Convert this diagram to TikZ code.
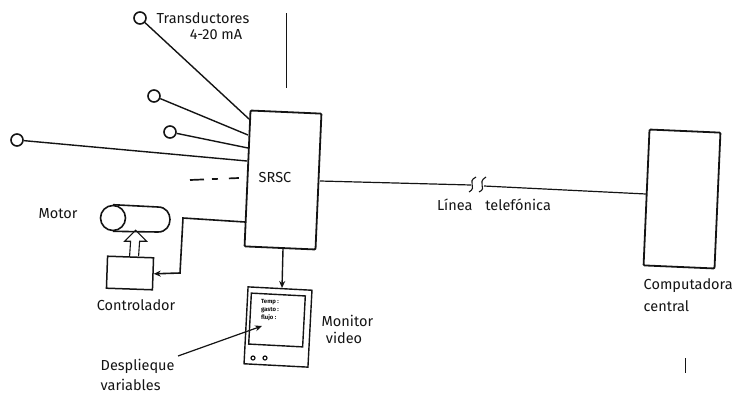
\documentclass[tikz,border=0pt]{standalone}
\usepackage{fontspec}
\setmainfont{Fira Sans}
\usetikzlibrary{arrows.meta,positioning,calc}
\definecolor{inkdark}{RGB}{20,20,20}
\begin{document}
\begin{tikzpicture}[x=1pt,y=-1pt,>={Stealth[length=7pt,width=6pt]},line width=1.4pt,draw=inkdark,
    every node/.style={align=center,font=\fontsize{14.5}{22}\selectfont,text=inkdark,inner sep=0pt},
    unitbox/.style={draw,line width=1.8pt,rounded corners=1pt,rotate=-2.5,minimum width=71pt,minimum height=136pt},
    sensor/.style={draw,circle,line width=1.6pt,minimum size=12pt},
    knob/.style={draw,circle,line width=1.2pt,minimum size=4pt},
    scanmark/.style={line width=0.8pt}]
  \useasboundingbox (0,0) rectangle (735,394);
  \node[unitbox] (srsc) at (283,180) {};
  \node (srsc label) at (275,177) {SRSC};
  \node[unitbox] (central) at (682,199) {};
  \node[sensor] (t1) at (140,18) {};
  \node[sensor] (t2) at (154,96) {};
  \node[sensor] (t3) at (170,132) {};
  \node[sensor] (t4) at (17,140) {};
  \coordinate (in1) at (249,119);
  \coordinate (in2) at (248,135);
  \coordinate (in3) at (248,148);
  \coordinate (in4) at (247,161);
  \draw (t1) -- (in1);
  \draw (t2) -- (in2);
  \draw (t3) -- (in3);
  \draw (t4) -- (in4);
  \node (transd) at (203,18) {Transductores};
  \node (transd range) at (216,35) {4-20 mA};
  \coordinate (dashA) at (190,180);
  \coordinate (dashB) at (239,178);
  \draw[line width=1.7pt,dash pattern=on 14pt off 8pt on 6pt off 11pt on 10pt off 9pt] (dashA) -- (dashB);
  \coordinate (breakA) at (471,185);
  \coordinate (breakB) at (484,186);
  \coordinate (lineout) at (320,181);
  \coordinate (linein) at (646,194);
  \draw[line width=1.2pt] (lineout) -- (breakA);
  \draw[line width=1.2pt] (breakB) -- (linein);
  \draw[line width=1.1pt] ($(breakA)+(-2,7)$) .. controls ($(breakA)+(7,2)$) and ($(breakA)+(-5,-3)$) .. ($(breakA)+(5,-8)$);
  \draw[line width=1.1pt] ($(breakB)+(-5,6)$) .. controls ($(breakB)+(4,2)$) and ($(breakB)+(-8,-3)$) .. ($(breakB)+(2,-9)$);
  \node (linea) at (494,205) {Línea\hspace{0.9em}telefónica};
  \node[anchor=north west,align=left] (central label) at (643,278) {Computadora\\central};
  \node (motor label) at (58,214) {Motor};
  \node[draw,circle,line width=1.6pt,minimum width=25pt] (motor end) at (113,218) {};
  \coordinate (motor top) at (158,207);
  \coordinate (motor low) at (158,232);
  \draw[line width=1.6pt] (motor end.north) -- (motor top) .. controls (174,207) and (174,232) .. (motor low) -- (motor end.south);
  \node[draw,line width=1.5pt,rotate=-2,minimum width=46pt,minimum height=32pt] (control) at (130,273) {};
  \node (control label) at (136,305) {Controlador};
  \draw[line width=1.1pt] ($(control.north)+(-1,0)$) -- ++(1,-15) -- ++(-6,0) -- ++(11,-11) -- ++(11,11) -- ++(-7,0) -- ++(-1,15);
  \coordinate (wireout) at (245,222);
  \coordinate (bendA) at (183,218);
  \coordinate (bendB) at (180,273);
  \draw[->,line width=1.6pt] (wireout) -- (bendA) -- (bendB) -- (control.east);
  \node[draw,line width=1.4pt,rotate=-3,minimum width=64pt,minimum height=77pt] (monitor) at (278,327) {};
  \node[draw,line width=1.4pt,rotate=-3,minimum width=54pt,minimum height=51pt] (screen) at (277,320) {};
  \node[font=\fontsize{6}{8}\selectfont\bfseries,align=left] (screen text) at (270,310) {Temp :\\gasto :\\flujo :};
  \node[knob] (knobA) at (253,358) {};
  \node[knob] (knobB) at (265,358) {};
  \coordinate (srsc foot) at (283,249);
  \coordinate (monitor head) at (282,288);
  \draw[->] (srsc foot) -- (monitor head);
  \node[anchor=west] (monitor label) at (321,321) {Monitor};
  \node (video label) at (344,338) {video};
  \node[anchor=west] (desp label) at (100,366) {Desplieque};
  \node[anchor=west] (var label) at (100,385) {variables};
  \coordinate (desp tail) at (178,356);
  \coordinate (desp head) at (262,326);
  \draw[->,line width=1.2pt] (desp tail) -- (desp head);
  \coordinate (foldA) at (286,13);
  \coordinate (foldB) at (286,88);
  \coordinate (foldC) at (685,358);
  \coordinate (foldD) at (685,373);
  \draw[scanmark] (foldA) -- (foldB);
  \draw[scanmark] (foldC) -- (foldD);
\end{tikzpicture}
\end{document}
